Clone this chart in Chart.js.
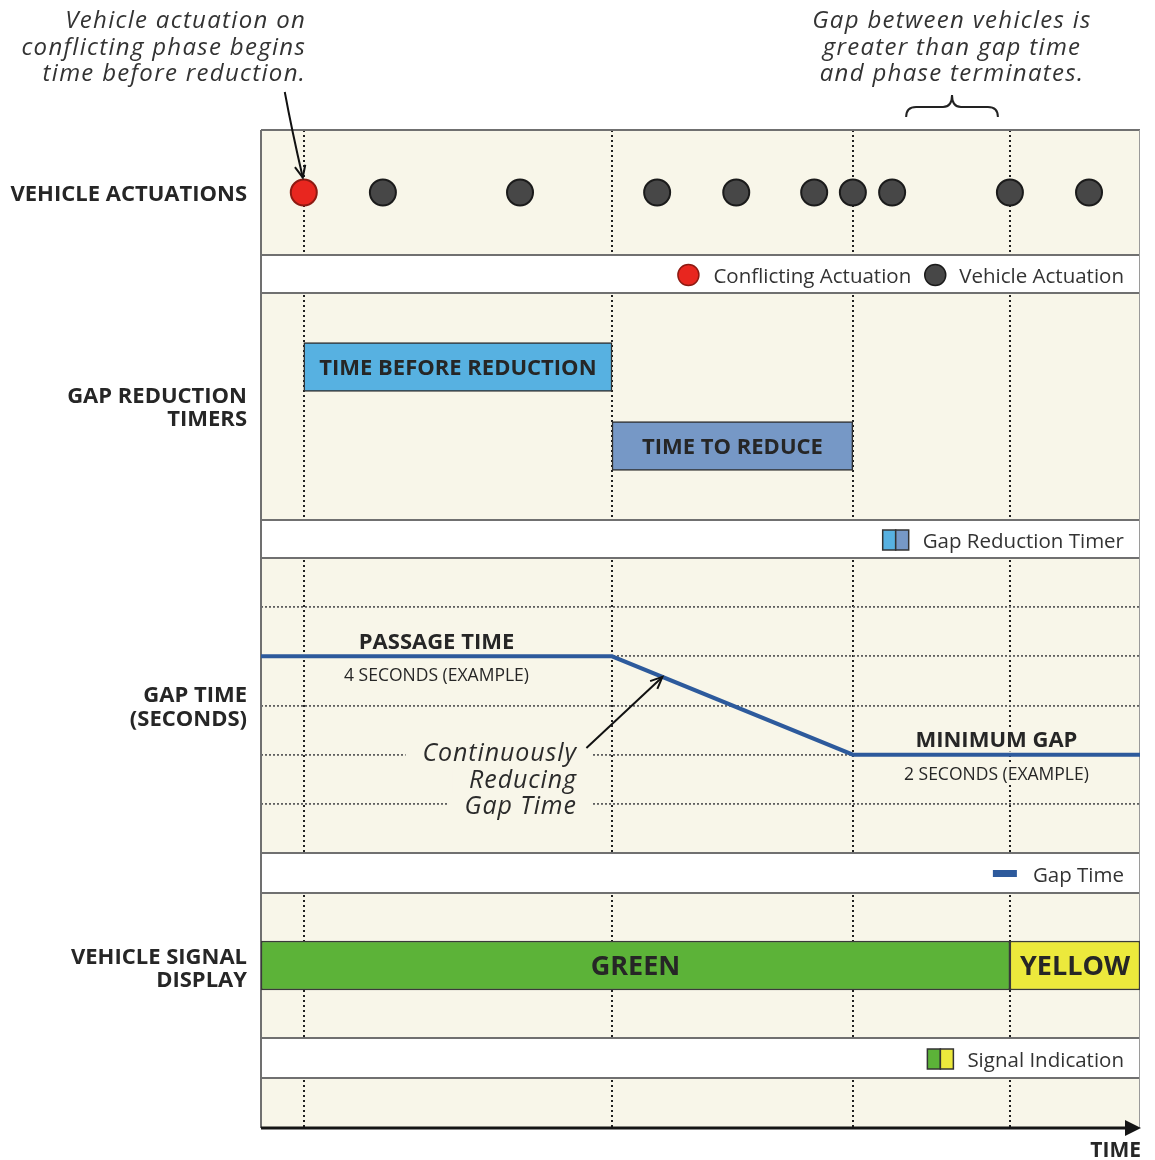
<!DOCTYPE html>
<html>
<head>
<meta charset="utf-8">
<title>Gap reduction timing</title>
<script src="https://cdn.jsdelivr.net/npm/chart.js@4.4.1/dist/chart.umd.min.js"></script>
<style>
  html, body { margin: 0; padding: 0; background: #fff; }
  canvas { display: block; }
</style>
</head>
<body>
<canvas id="gapChart" width="1155" height="1160"></canvas>
<script>
// ---- data (time in seconds along the x axis) ----
const actuationTimes = [0.73, 2.08, 4.42, 6.76, 8.11, 9.44, 10.1, 10.77, 12.78, 14.13];
const actuationKinds = ['conflicting', 'vehicle', 'vehicle', 'vehicle', 'vehicle',
                        'vehicle', 'vehicle', 'vehicle', 'vehicle', 'vehicle'];
const eventTimes = [0.73, 5.99, 10.1, 12.78];

const timerLabels = ['TIME BEFORE REDUCTION', 'TIME TO REDUCE'];
const timerRows = [1.5, 3.1];
const timerStart = [0.73, 5.99];
const timerEnd = [5.99, 10.1];

const gapTimeX = [0, 5.99, 10.1, 15];
const gapSeconds = [4, 4, 2, 2];
const gapTicks = [1, 2, 3, 4, 5];

const signalLabels = ['GREEN', 'YELLOW'];
const signalStart = [0, 12.78];
const signalEnd = [12.78, 15];

// ---- look ----
const FAMILY = '"Open Sans", "DejaVu Sans", sans-serif';
const BEIGE = '#f8f6e9';
const INK = '#262626';
const EDGE = '#707070';
const RED = '#e8261f';
const GREY_DOT = '#474747';
const BLUE_LIGHT = '#57b1e1';
const BLUE_STEEL = '#7698c6';
const GAP_BLUE = '#2d5a9c';
const GREEN = '#5cb338';
const YELLOW = '#ece93c';

function font(size, weight = 'normal', style = 'normal') {
    return `${style} ${weight} ${size}px ${FAMILY}`;
}

function setFont(ctx, f, spacing = 0) {
    ctx.font = f;
    ctx.letterSpacing = spacing + 'px';
}

function drawText(ctx, str, x, y, f, align = 'center', color = INK, spacing = 0) {
    setFont(ctx, f, spacing);
    ctx.fillStyle = color;
    ctx.textAlign = align;
    ctx.textBaseline = 'middle';
    ctx.fillText(str, align === 'right' ? x + spacing : x, y + 2);
    ctx.letterSpacing = '0px';
}

function textBg(ctx, str, x, y, f, align, padX, h, spacing = 0) {
    setFont(ctx, f, spacing);
    const w = ctx.measureText(str).width;
    ctx.letterSpacing = '0px';
    let left = x - w / 2;
    if (align === 'right') left = x - w;
    if (align === 'left') left = x;
    ctx.fillStyle = BEIGE;
    ctx.fillRect(left - padX, y + 2 - h / 2, w + padX * 2, h);
}

function line(ctx, x1, y1, x2, y2) {
    ctx.beginPath();
    ctx.moveTo(x1, y1);
    ctx.lineTo(x2, y2);
    ctx.stroke();
}

function arrow(ctx, x1, y1, x2, y2, cx, cy) {
    ctx.beginPath();
    ctx.moveTo(x1, y1);
    if (cx !== undefined) ctx.quadraticCurveTo(cx, cy, x2, y2);
    else ctx.lineTo(x2, y2);
    ctx.stroke();
    const fx = cx !== undefined ? cx : x1;
    const fy = cy !== undefined ? cy : y1;
    const ang = Math.atan2(y2 - fy, x2 - fx);
    const L = 13, s = 0.42;
    ctx.beginPath();
    ctx.moveTo(x2 - L * Math.cos(ang - s), y2 - L * Math.sin(ang - s));
    ctx.lineTo(x2, y2);
    ctx.lineTo(x2 - L * Math.cos(ang + s), y2 - L * Math.sin(ang + s));
    ctx.stroke();
}

// panels stacked from top to bottom: [axis id, height weight]
const panelRows = [
    ['yAct', 125], ['yLeg1', 38], ['yTimer', 227], ['yLeg2', 38],
    ['yGap', 295], ['yLeg3', 40], ['ySig', 145], ['yLeg4', 40], ['yEnd', 50]
];

const scales = {
    x: {
        type: 'linear', position: 'bottom', min: 0, max: 15, offset: false,
        afterBuildTicks: axis => { axis.ticks = eventTimes.map(v => ({ value: v })); },
        ticks: { display: false },
        grid: { color: '#1f1f1f', lineWidth: 2, drawTicks: false },
        border: { display: false, dash: [2, 3] }
    }
};
panelRows.forEach(([id, h], i) => {
    scales[id] = {
        type: 'linear', position: 'left', stack: 'panels', stackWeight: h,
        weight: panelRows.length - i, display: false, min: 0, max: 1,
        offset: false, grid: { offset: false }
    };
});
scales.yTimer.max = 4.6;
scales.yTimer.reverse = true;
Object.assign(scales.yGap, {
    display: true, min: 0, max: 6,
    afterBuildTicks: axis => { axis.ticks = gapTicks.map(v => ({ value: v })); },
    ticks: { display: false },
    grid: { color: '#606060', lineWidth: 1.8, drawTicks: false },
    border: { display: false, dash: [2, 2] }
});

const NOTE_FONT = font(24, 'normal', 'italic');
const NOTE_SPACING = 1.3;
const CURVE_FONT = font(25, 'normal', 'italic');
const CURVE_SPACING = 0.9;

// ---- drawing of panels, legends and notes ----
const panelPlugin = {
    id: 'panels',
    beforeDraw(chart) {
        const { ctx, chartArea: a } = chart;
        ctx.save();
        ctx.fillStyle = '#fff';
        ctx.fillRect(0, 0, chart.width, chart.height);
        ctx.fillStyle = BEIGE;
        ctx.fillRect(a.left, a.top, a.right - a.left, a.bottom - a.top);
        ctx.restore();
    },
    beforeDatasetsDraw(chart) {
        const { ctx, chartArea: a, scales: s } = chart;
        ctx.save();
        // white legend strips cover the grid
        ['yLeg1', 'yLeg2', 'yLeg3', 'yLeg4'].forEach(id => {
            ctx.fillStyle = '#fff';
            ctx.fillRect(a.left, s[id].top, a.right - a.left, s[id].bottom - s[id].top);
            ctx.strokeStyle = EDGE;
            ctx.lineWidth = 2;
            line(ctx, a.left, s[id].top, a.right, s[id].top);
            line(ctx, a.left, s[id].bottom, a.right, s[id].bottom);
        });
        ctx.strokeStyle = EDGE;
        ctx.lineWidth = 2;
        line(ctx, a.left, a.top, a.right, a.top);
        line(ctx, a.left, a.top, a.left, a.bottom);
        ctx.lineWidth = 1;
        ctx.strokeStyle = '#9a9a9a';
        line(ctx, a.right - 0.5, a.top, a.right - 0.5, a.bottom);

        // label backgrounds in the gap time panel
        const x = s.x, g = s.yGap;
        const midLeft = (a.left + x.getPixelForValue(gapTimeX[1])) / 2;
        const midRight = (x.getPixelForValue(gapTimeX[2]) + a.right) / 2;
        textBg(ctx, 'PASSAGE TIME', midLeft, g.getPixelForValue(gapSeconds[0]) - 16, font(22, 'bold'), 'center', 5, 22);
        textBg(ctx, '4 SECONDS (EXAMPLE)', midLeft, g.getPixelForValue(gapSeconds[0]) + 18, font(17.5), 'center', 5, 20);
        textBg(ctx, 'MINIMUM GAP', midRight, g.getPixelForValue(gapSeconds[3]) - 16, font(22, 'bold'), 'center', 5, 22);
        textBg(ctx, '2 SECONDS (EXAMPLE)', midRight, g.getPixelForValue(gapSeconds[3]) + 18, font(17.5), 'center', 5, 20);
        const cx = x.getPixelForValue(eventTimes[1]) - 36;
        const cy = g.getPixelForValue(2);
        textBg(ctx, 'Continuously', cx, cy - 3, CURVE_FONT, 'right', 16, 26, CURVE_SPACING);
        textBg(ctx, 'Reducing', cx, cy + 24, CURVE_FONT, 'right', 16, 26, CURVE_SPACING);
        textBg(ctx, 'Gap Time', cx, cy + 50, CURVE_FONT, 'right', 16, 26, CURVE_SPACING);
        ctx.restore();
    },
    afterDatasetsDraw(chart) {
        const { ctx, chartArea: a, scales: s } = chart;
        const x = s.x, g = s.yGap;
        const mid = id => (s[id].top + s[id].bottom) / 2;
        ctx.save();

        // panel titles
        const tx = a.left - 14;
        const pf = font(22, 'bold');
        drawText(ctx, 'VEHICLE ACTUATIONS', tx, mid('yAct'), pf, 'right');
        drawText(ctx, 'GAP REDUCTION', tx, mid('yTimer') - 11.5, pf, 'right');
        drawText(ctx, 'TIMERS', tx, mid('yTimer') + 11.5, pf, 'right');
        drawText(ctx, 'GAP TIME', tx, mid('yGap') - 12, pf, 'right');
        drawText(ctx, '(SECONDS)', tx, mid('yGap') + 12, pf, 'right');
        drawText(ctx, 'VEHICLE SIGNAL', tx, mid('ySig') - 9.5, pf, 'right');
        drawText(ctx, 'DISPLAY', tx, mid('ySig') + 13.5, pf, 'right');

        // labels inside the bars
        chart.getDatasetMeta(1).data.forEach((bar, i) => {
            drawText(ctx, timerLabels[i], (bar.x + bar.base) / 2, bar.y, font(22, 'bold'));
        });
        chart.getDatasetMeta(2).data.forEach((bar, i) => {
            drawText(ctx, signalLabels[i], (bar.x + bar.base) / 2, bar.y, font(27, 'bold'));
        });

        // gap time labels
        const midLeft = (a.left + x.getPixelForValue(gapTimeX[1])) / 2;
        const midRight = (x.getPixelForValue(gapTimeX[2]) + a.right) / 2;
        drawText(ctx, 'PASSAGE TIME', midLeft, g.getPixelForValue(gapSeconds[0]) - 16, font(22, 'bold'));
        drawText(ctx, '4 SECONDS (EXAMPLE)', midLeft, g.getPixelForValue(gapSeconds[0]) + 18, font(17.5));
        drawText(ctx, 'MINIMUM GAP', midRight, g.getPixelForValue(gapSeconds[3]) - 16, font(22, 'bold'));
        drawText(ctx, '2 SECONDS (EXAMPLE)', midRight, g.getPixelForValue(gapSeconds[3]) + 18, font(17.5));
        const cx = x.getPixelForValue(eventTimes[1]) - 36;
        const cy = g.getPixelForValue(2);
        drawText(ctx, 'Continuously', cx, cy - 3, CURVE_FONT, 'right', '#2b2b2b', CURVE_SPACING);
        drawText(ctx, 'Reducing', cx, cy + 24, CURVE_FONT, 'right', '#2b2b2b', CURVE_SPACING);
        drawText(ctx, 'Gap Time', cx, cy + 50, CURVE_FONT, 'right', '#2b2b2b', CURVE_SPACING);

        // arrow to the reducing line
        const tTip = 6.85;
        const f = (tTip - gapTimeX[1]) / (gapTimeX[2] - gapTimeX[1]);
        const tipX = x.getPixelForValue(tTip);
        const tipY = g.getPixelForValue(gapSeconds[1] + f * (gapSeconds[2] - gapSeconds[1]));
        ctx.strokeStyle = '#111';
        ctx.lineWidth = 2;
        arrow(ctx, tipX - 76, tipY + 71, tipX, tipY);

        // legend strips
        const lx = a.right - 16;
        const lf = font(20.5);
        // strip 1
        let y = mid('yLeg1') + 1;
        setFont(ctx, lf);
        let w = ctx.measureText('Vehicle Actuation').width;
        drawText(ctx, 'Vehicle Actuation', lx, y, lf, 'right', '#333');
        let px = lx - w - 24;
        ctx.beginPath(); ctx.arc(px, y, 10.5, 0, Math.PI * 2);
        ctx.fillStyle = GREY_DOT; ctx.fill(); ctx.lineWidth = 1.5; ctx.strokeStyle = '#1b1b1b'; ctx.stroke();
        px -= 24;
        setFont(ctx, lf);
        w = ctx.measureText('Conflicting Actuation').width;
        drawText(ctx, 'Conflicting Actuation', px, y, lf, 'right', '#333');
        px -= w + 25;
        ctx.beginPath(); ctx.arc(px, y, 10.5, 0, Math.PI * 2);
        ctx.fillStyle = RED; ctx.fill(); ctx.strokeStyle = '#8d1a12'; ctx.stroke();

        // strip 2
        y = mid('yLeg2') + 1;
        setFont(ctx, lf);
        w = ctx.measureText('Gap Reduction Timer').width;
        drawText(ctx, 'Gap Reduction Timer', lx, y, lf, 'right', '#333');
        px = lx - w - 14 - 26;
        ctx.lineWidth = 1.5; ctx.strokeStyle = '#333';
        ctx.fillStyle = BLUE_LIGHT; ctx.fillRect(px, y - 10, 13, 20); ctx.strokeRect(px, y - 10, 13, 20);
        ctx.fillStyle = BLUE_STEEL; ctx.fillRect(px + 13, y - 10, 13, 20); ctx.strokeRect(px + 13, y - 10, 13, 20);

        // strip 3
        y = mid('yLeg3') + 1;
        setFont(ctx, lf);
        w = ctx.measureText('Gap Time').width;
        drawText(ctx, 'Gap Time', lx, y, lf, 'right', '#333');
        ctx.fillStyle = GAP_BLUE;
        ctx.fillRect(lx - w - 16 - 24, y - 4, 24, 7);

        // strip 4
        y = mid('yLeg4') + 1;
        setFont(ctx, lf);
        w = ctx.measureText('Signal Indication').width;
        drawText(ctx, 'Signal Indication', lx, y, lf, 'right', '#333');
        px = lx - w - 14 - 26;
        ctx.lineWidth = 1.5; ctx.strokeStyle = '#333';
        ctx.fillStyle = GREEN; ctx.fillRect(px, y - 10, 13, 20); ctx.strokeRect(px, y - 10, 13, 20);
        ctx.fillStyle = YELLOW; ctx.fillRect(px + 13, y - 10, 13, 20); ctx.strokeRect(px + 13, y - 10, 13, 20);

        // time axis with arrow
        ctx.strokeStyle = '#151515';
        ctx.lineWidth = 3;
        line(ctx, a.left, a.bottom, a.right - 12, a.bottom);
        ctx.fillStyle = '#151515';
        ctx.beginPath();
        ctx.moveTo(a.right + 1, a.bottom);
        ctx.lineTo(a.right - 15, a.bottom - 8);
        ctx.lineTo(a.right - 15, a.bottom + 8);
        ctx.closePath();
        ctx.fill();
        drawText(ctx, 'TIME', a.right + 1, a.bottom + 21, font(21, 'bold'), 'right');

        // notes above the chart
        const leftX = x.getPixelForValue(actuationTimes[0]) + 1;
        drawText(ctx, 'Vehicle actuation on', leftX, a.top - 111, NOTE_FONT, 'right', '#333', NOTE_SPACING);
        drawText(ctx, 'conflicting phase begins', leftX, a.top - 84, NOTE_FONT, 'right', '#333', NOTE_SPACING);
        drawText(ctx, 'time before reduction.', leftX, a.top - 58, NOTE_FONT, 'right', '#333', NOTE_SPACING);

        const b1 = x.getPixelForValue(actuationTimes[7]) + 14;
        const b2 = x.getPixelForValue(actuationTimes[8]) - 12;
        const bm = (b1 + b2) / 2;
        drawText(ctx, 'Gap between vehicles is', bm, a.top - 111, NOTE_FONT, 'center', '#333', NOTE_SPACING);
        drawText(ctx, 'greater than gap time', bm, a.top - 84, NOTE_FONT, 'center', '#333', NOTE_SPACING);
        drawText(ctx, 'and phase terminates.', bm, a.top - 58, NOTE_FONT, 'center', '#333', NOTE_SPACING);

        // brace
        const by = a.top - 13;
        ctx.strokeStyle = '#222';
        ctx.lineWidth = 2;
        ctx.beginPath();
        ctx.moveTo(b1, by);
        ctx.quadraticCurveTo(b1, by - 10, b1 + 10, by - 10);
        ctx.lineTo(bm - 9, by - 10);
        ctx.quadraticCurveTo(bm, by - 10, bm, by - 22);
        ctx.quadraticCurveTo(bm, by - 10, bm + 9, by - 10);
        ctx.lineTo(b2 - 10, by - 10);
        ctx.quadraticCurveTo(b2, by - 10, b2, by);
        ctx.stroke();

        // arrow to the conflicting actuation
        const dotX = x.getPixelForValue(actuationTimes[0]);
        const dotTop = s.yAct.getPixelForValue(0.5) - 15;
        ctx.strokeStyle = '#111';
        ctx.lineWidth = 2;
        arrow(ctx, dotX - 19, a.top - 38, dotX - 1, dotTop, dotX - 12, a.top);

        ctx.restore();
    }
};

new Chart(document.getElementById('gapChart'), {
    type: 'scatter',
    data: {
        datasets: [
            {
                type: 'scatter',
                label: 'Actuations',
                xAxisID: 'x',
                yAxisID: 'yAct',
                data: actuationTimes.map(t => ({ x: t, y: 0.5 })),
                pointRadius: 13,
                pointBorderWidth: 2,
                pointBackgroundColor: actuationKinds.map(k => k === 'conflicting' ? RED : GREY_DOT),
                pointBorderColor: actuationKinds.map(k => k === 'conflicting' ? '#8d1a12' : '#1b1b1b')
            },
            {
                type: 'bar',
                label: 'Gap Reduction Timer',
                indexAxis: 'y',
                xAxisID: 'x',
                yAxisID: 'yTimer',
                data: timerLabels.map((l, i) => ({ y: timerRows[i], x: [timerStart[i], timerEnd[i]] })),
                backgroundColor: [BLUE_LIGHT, BLUE_STEEL],
                borderColor: '#2e2e2e',
                borderWidth: 1.5,
                borderSkipped: false,
                barThickness: 49
            },
            {
                type: 'bar',
                label: 'Signal Indication',
                indexAxis: 'y',
                xAxisID: 'x',
                yAxisID: 'ySig',
                data: signalLabels.map((l, i) => ({ y: 0.5, x: [signalStart[i], signalEnd[i]] })),
                backgroundColor: [GREEN, YELLOW],
                borderColor: '#3a3a3a',
                borderWidth: 1.5,
                borderSkipped: false,
                barThickness: 49
            },
            {
                type: 'line',
                label: 'Gap Time',
                xAxisID: 'x',
                yAxisID: 'yGap',
                data: gapTimeX.map((t, i) => ({ x: t, y: gapSeconds[i] })),
                borderColor: GAP_BLUE,
                borderWidth: 4,
                pointRadius: 0,
                fill: false,
                tension: 0
            }
        ]
    },
    options: {
        responsive: false,
        animation: false,
        events: [],
        devicePixelRatio: 1,
        layout: { padding: { left: 261, top: 130, right: 15, bottom: 32 } },
        plugins: { legend: { display: false }, tooltip: { enabled: false } },
        scales: scales
    },
    plugins: [panelPlugin]
});
</script>
</body>
</html>
